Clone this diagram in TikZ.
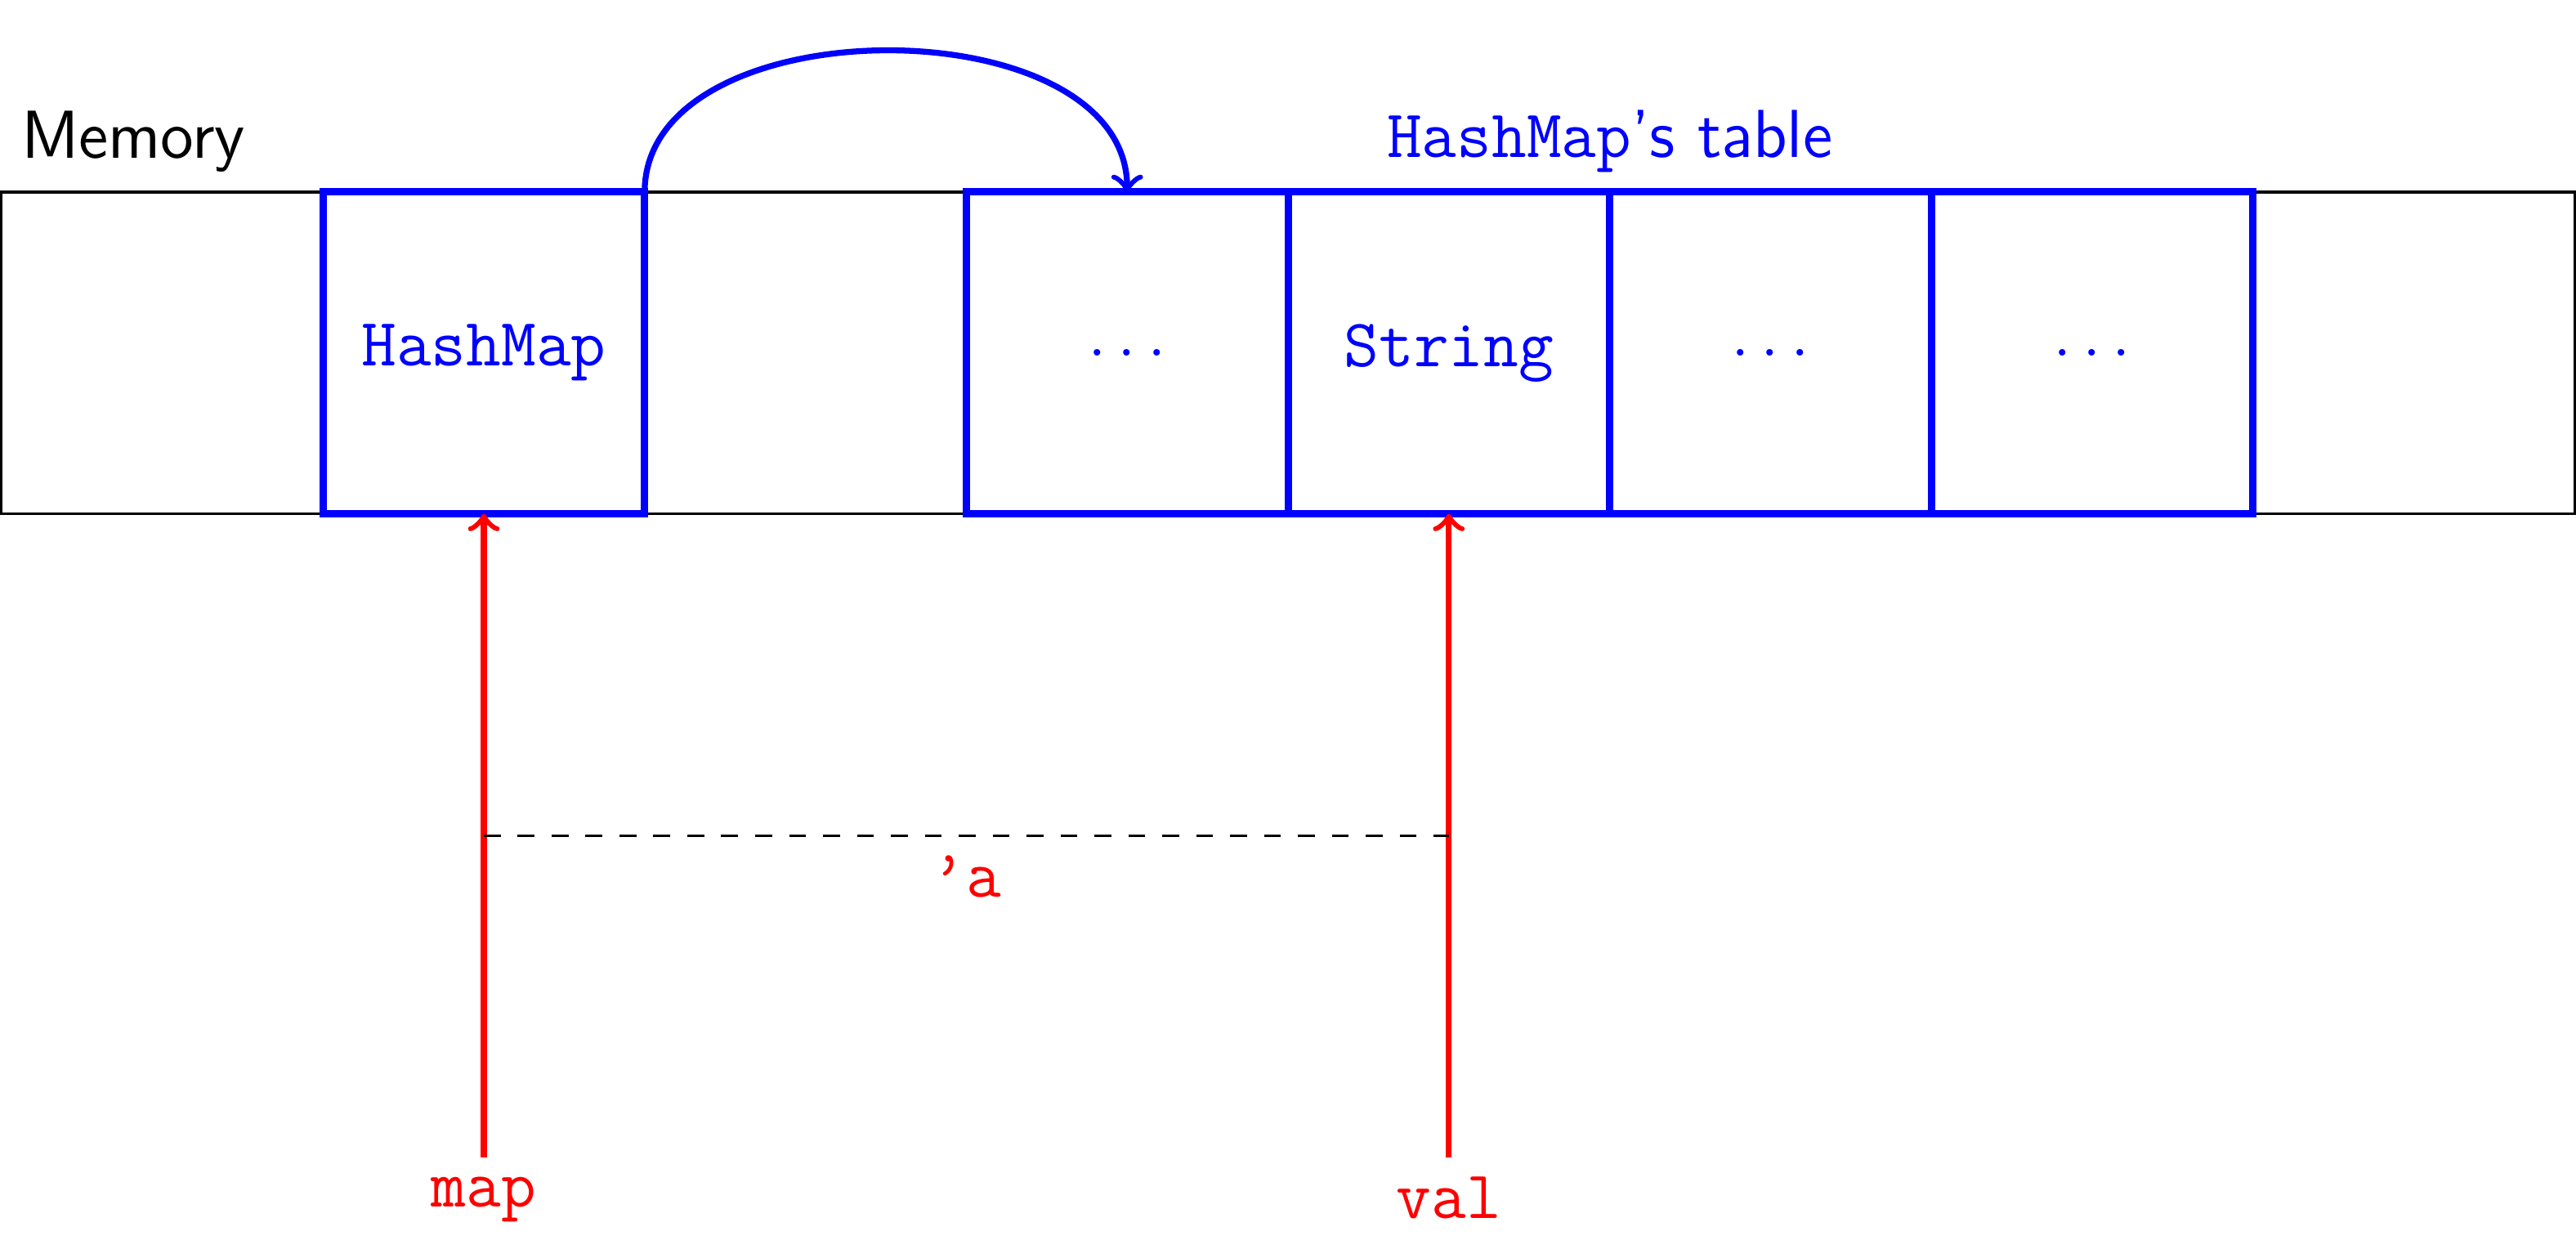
\documentclass[tikz,border=0pt]{standalone}
\begin{document}
\begin{tikzpicture}[x=2cm,y=2cm,
  rmfont/.style={font=\fontsize{12}{14.4}\selectfont},
  ttfont/.style={font=\fontsize{12}{14.4}\selectfont\ttfamily},
  sffont/.style={font=\fontsize{12}{14.4}\selectfont\sffamily},
  membox/.style={draw=black, line width=0.45pt, minimum width=16cm, minimum height=2cm, inner sep=0pt, outer sep=0pt},
  cell/.style={draw=blue, line width=1.3pt, minimum width=2cm, minimum height=2cm, inner sep=0pt, outer sep=0pt, text=blue, ttfont},
  ptr/.style={draw=red, line width=1.05pt, ->},
  ptrlabel/.style={below, text=red, ttfont}]
\useasboundingbox (-0.004,-2.285) rectangle (8.004,1.597);
\node[membox] (memory) at (4,0.5) {};
\node[above right, sffont] (memlabel) at (memory.north west) {Memory};
\node[cell] (hm) at (1.5,0.5) {HashMap};
\node[cell] (t1) at (3.5,0.5) {\normalfont$\ldots$};
\node[cell] (t2) at (4.5,0.5) {String};
\node[cell] (t3) at (5.5,0.5) {\normalfont$\ldots$};
\node[cell] (t4) at (6.5,0.5) {\normalfont$\ldots$};
\node[above, text=blue, rmfont] (tablelabel) at (t2.north east) {\texttt{HashMap}\textsf{’s table}};
\draw[blue, line width=1.05pt, ->] (hm.north east) to[out=90,in=90] (t1.north);
\node[ptrlabel] (map) at (1.5,-2) {map};
\node[ptrlabel] (val) at (4.5,-2) {val};
\draw[ptr] (map.north) -- (hm.south);
\draw[ptr] (val.north) -- (t2.south);
\coordinate (dl) at (1.5,-1);
\coordinate (dr) at (4.5,-1);
\draw[dashed, line width=0.45pt] (dl) -- node[ptrlabel] (life) {’a} (dr);
\end{tikzpicture}
\end{document}
